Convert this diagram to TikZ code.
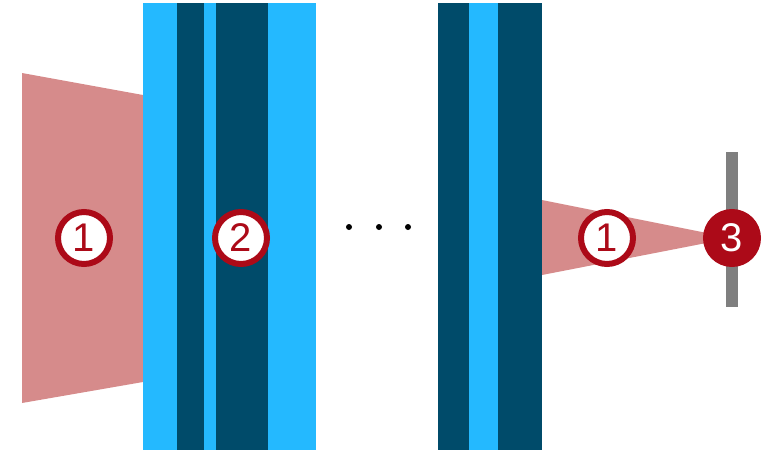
\documentclass[tikz,border=0pt]{standalone}
\usepackage{fontspec}
\setmainfont{Liberation Sans}
\definecolor{beam}{RGB}{214,139,139}
\definecolor{lblue}{RGB}{36,185,255}
\definecolor{dblue}{RGB}{0,75,106}
\definecolor{mred}{RGB}{172,10,24}
\definecolor{bargray}{RGB}{127,127,127}
\begin{document}
\begin{tikzpicture}[x=1pt,y=-1pt,
  num/.style={circle,draw=mred,line width=6pt,fill=white,text=mred,minimum size=52pt,inner sep=0pt,font=\fontsize{40}{40}\selectfont},
  numfill/.style={circle,draw=mred,line width=6pt,fill=mred,text=white,minimum size=52pt,inner sep=0pt,font=\fontsize{40}{40}\selectfont},
  dot/.style={circle,fill=black,minimum size=6pt,inner sep=0pt}]
\useasboundingbox (0,0) rectangle (769,451);
% left beam
\fill[beam] (22,73) -- (143,95) -- (143,382) -- (22,403) -- cycle;
% first stack
\fill[lblue] (143,3) rectangle (316,450);
\fill[dblue] (177,3) rectangle (204,450);
\fill[dblue] (216,3) rectangle (268,450);
% second stack
\fill[dblue] (438,3) rectangle (542,450);
\fill[lblue] (469,3) rectangle (498,450);
% right beam
\fill[beam] (542,200) -- (732,238) -- (542,275) -- cycle;
% detector bar
\fill[bargray] (726,152) rectangle (738,307);
% dots
\node[dot] (d1) at (349,227) {};
\node[dot] (d2) at (379,227) {};
\node[dot] (d3) at (408,227) {};
% labels
\node[num] (n1a) at (84,238) {1};
\node[num] (n2) at (241,238) {2};
\node[num] (n1b) at (607,238) {1};
\node[numfill] (n3) at (732,238) {3};
\end{tikzpicture}
\end{document}
